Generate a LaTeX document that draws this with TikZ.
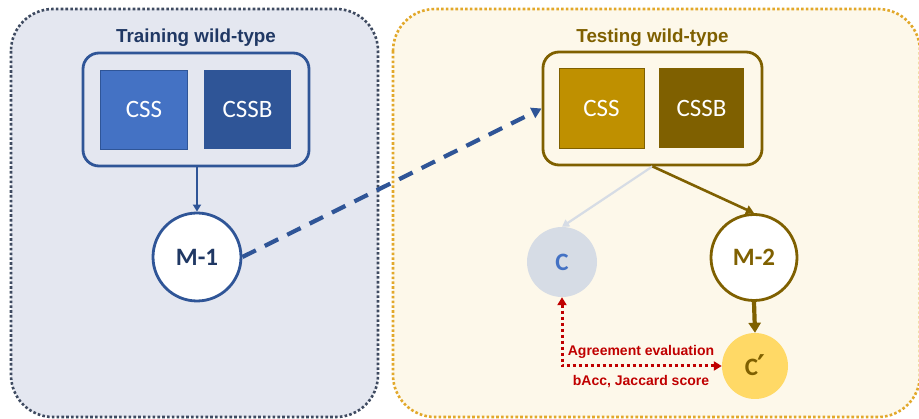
\documentclass[tikz,border=0pt]{standalone}
\usepackage{fontspec}
\setmainfont{Liberation Sans}
\newfontfamily\calfont{Carlito}
\newfontfamily\primefont{DejaVu Sans}
\usetikzlibrary{arrows.meta}

\definecolor{trainfill}{HTML}{E4E7F0}
\definecolor{trainedge}{HTML}{3E4A60}
\definecolor{testfill}{HTML}{FDF8EA}
\definecolor{testedge}{HTML}{E2A82A}
\definecolor{blueA}{HTML}{4472C4}
\definecolor{blueB}{HTML}{2F5597}
\definecolor{navy}{HTML}{203864}
\definecolor{goldA}{HTML}{BF9000}
\definecolor{goldB}{HTML}{7F6000}
\definecolor{paleC}{HTML}{D6DCE5}
\definecolor{yellowC}{HTML}{FFD966}
\definecolor{evalred}{HTML}{C00000}

\tikzset{
  panel/.style={line width=2.6pt, dash pattern=on 2.6pt off 2.2pt, rounded corners=42pt},
  group/.style={draw, line width=2.8pt, rounded corners=16pt, fill=none},
  tile/.style={minimum width=87pt, minimum height=79pt, inner sep=0pt,
    text=white, font=\calfont\fontsize{25}{29}\selectfont},
  model/.style={circle, draw, line width=2.8pt, fill=white, minimum size=88pt,
    inner sep=0pt, font=\calfont\bfseries\fontsize{25}{29}\selectfont},
  outcome/.style={circle, minimum size=68pt, inner sep=0pt,
    font=\calfont\bfseries\fontsize{25}{29}\selectfont},
  title/.style={font=\bfseries\fontsize{18.8}{22}\selectfont},
  evaltext/.style={font=\bfseries\fontsize{14}{17}\selectfont, text=evalred},
}

\begin{document}
\begin{tikzpicture}[x=1pt, y=-1pt]
\clip (0,0) rectangle (919,419);
\fill[white] (0,0) rectangle (919,419);

% the two panels
\draw[panel, fill=trainfill, draw=trainedge] (11,9) rectangle (378,417);
\draw[panel, fill=testfill, draw=testedge] (393,9) rectangle (920,417);

% training side
\node[title, text=navy] (ttrain) at (196,38) {Training wild-type};
\node[tile, fill=blueA, draw=blueB, line width=0.8pt] (css1) at (144,109.5) {CSS};
\node[tile, fill=blueB] (cssb1) at (247.5,109.5) {CSSB};
\node[group, draw=blueB, minimum width=226pt, minimum height=113pt] (box1) at (196,109.5) {};
\node[model, draw=blueB, text=navy] (m1) at (197,257) {M-1};

% testing side
\node[title, text=goldB] (ttest) at (652.5,38) {Testing wild-type};
\node[tile, fill=goldA, draw=goldB, line width=0.6pt, minimum width=85pt, minimum height=80pt] (css2) at (601.5,108) {CSS};
\node[tile, fill=goldB, minimum width=85pt, minimum height=80pt] (cssb2) at (701.5,108) {CSSB};
\node[group, draw=goldB, minimum width=219pt, minimum height=113pt] (box2) at (652.5,108.5) {};
\node[outcome, fill=paleC, text=blueA, minimum size=70pt] (c) at (562,262) {C};
\node[model, draw=goldB, text=goldB, minimum size=86pt] (m2) at (754,257.5) {M-2};
\node[outcome, fill=yellowC, text=goldB, minimum size=66pt] (cp) at (755,366)
  {C\kern-1pt{\primefont\bfseries\fontsize{30}{30}\selectfont\raisebox{-1.5pt}{\symbol{"2032}}}};

% connectors
\draw[blueB, line width=2.4pt, -{Triangle[length=7pt, width=8pt]}] (box1.south -| m1) -- (m1.north);
\draw[blueB, line width=4.2pt, dash pattern=on 15pt off 10pt,
  -{Triangle[length=10pt, width=11pt]}] (m1.east) -- (box2.west);
\draw[paleC, line width=2.2pt, -{Triangle[length=7pt, width=8pt]}] (box2.south) -- (c.north);
\draw[goldB, line width=2.6pt, -{Triangle[length=8pt, width=9pt]}] (box2.south) -- (m2.north);
\draw[goldB, line width=4.2pt, -{Triangle[length=10pt, width=12pt]}] (m2.south) -- (cp.north);

% agreement evaluation
\draw[evalred, line width=3pt, dash pattern=on 3pt off 3pt,
  {Triangle[length=8pt, width=9pt]}-{Triangle[length=8pt, width=9pt]}]
  (c.south) |- (cp.west);
\node[evaltext] (agree) at (641,352) {Agreement evaluation};
\node[evaltext] (score) at (641,382) {bAcc, Jaccard score};
\end{tikzpicture}
\end{document}
